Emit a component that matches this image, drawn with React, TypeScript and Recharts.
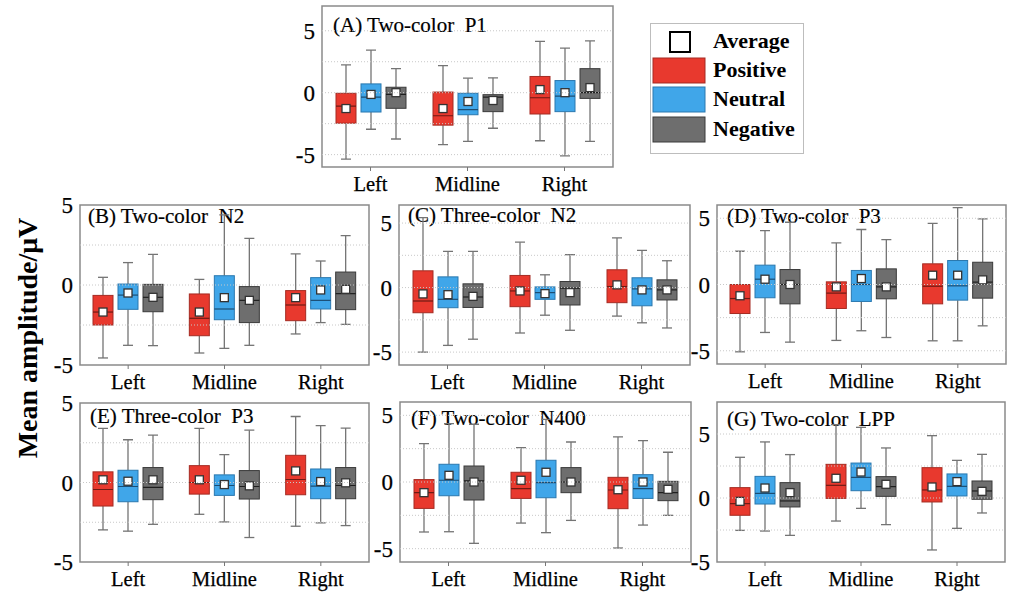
import React from 'react';
import { ComposedChart, Bar, XAxis, YAxis, ReferenceLine, ReferenceArea } from 'recharts';

const FONT = '"Liberation Serif", "Times New Roman", Times, serif';

const categories = ['Left', 'Midline', 'Right'];
const conditions = ['Positive', 'Neutral', 'Negative'];
const yTicks = [-5, 0, 5];
const gridValues = [-5, -2.5, 0, 2.5, 5];

// each entry: [whiskerLow, Q1, median, Q3, whiskerHigh, mean] for Left, Midline, Right
const aPositive = [[-5.36, -2.46, -1.09, -0.05, 2.24, -1.28], [-4.2, -2.62, -1.86, 0.05, 2.19, -1.28], [-3.88, -1.72, -0.41, 1.31, 4.15, 0.25]];
const aNeutral = [[-2.95, -1.56, -0.36, 0.71, 3.44, -0.14], [-3.93, -1.78, -1.37, -0.05, 1.17, -0.71], [-5.1, -1.53, -0.27, 0.98, 3.6, 0.0]];
const aNegative = [[-3.74, -1.26, -0.14, 0.44, 1.94, 0.0], [-2.87, -1.53, -0.36, -0.16, 1.2, -0.63], [-3.93, -0.46, 0.0, 1.94, 4.18, 0.41]];

const bPositive = [[-4.56, -2.5, -1.69, -0.65, 0.48, -1.69], [-4.25, -3.17, -2.08, -0.56, 0.35, -1.69], [-3.06, -2.23, -1.25, -0.35, 1.94, -0.79]];
const bNeutral = [[-3.77, -1.52, -0.63, 0.06, 1.4, -0.5], [-3.96, -2.17, -1.5, 0.58, 4.38, -0.79], [-2.35, -1.5, -0.96, 0.46, 1.5, -0.31]];
const bNegative = [[-3.79, -1.67, -0.77, 0.04, 1.92, -0.77], [-3.77, -2.35, -0.96, -0.1, 2.92, -0.96], [-2.46, -1.54, -0.54, 0.81, 3.08, -0.27]];

const cPositive = [[-5.0, -1.95, -1.04, 1.3, 5.42, -0.49], [-3.52, -1.48, -0.26, 0.94, 3.52, -0.26], [-2.21, -1.17, 0.08, 1.38, 3.85, 0.21]];
const cNeutral = [[-4.48, -1.56, -0.91, 0.83, 2.81, -0.55], [-2.14, -0.91, -0.39, 0.05, 0.99, -0.47], [-2.73, -1.41, -0.1, 0.76, 2.89, -0.18]];
const cNegative = [[-4.0, -1.54, -0.73, 0.29, 2.81, -0.68], [-3.31, -1.35, -0.05, 0.47, 2.55, -0.39], [-3.13, -0.96, -0.18, 0.6, 2.08, -0.18]];

const dPositive = [[-5.08, -2.19, -1.06, 0.0, 2.51, -0.85], [-4.22, -1.81, -0.65, 0.2, 3.14, -0.18], [-4.25, -1.46, -0.13, 1.56, 4.62, 0.7]];
const dNeutral = [[-3.62, -1.0, 0.4, 1.46, 4.07, 0.4], [-3.49, -1.28, 0.0, 1.06, 4.15, 0.45], [-4.25, -1.18, -0.1, 1.81, 5.8, 0.7]];
const dNegative = [[-4.35, -1.46, 0.0, 1.13, 4.7, 0.0], [-4.0, -1.08, -0.18, 1.18, 3.39, -0.18], [-3.12, -1.03, 0.18, 1.68, 4.95, 0.35]];

const ePositive = [[-2.98, -1.48, -0.44, 0.67, 3.4, 0.17], [-2.0, -0.73, 0.0, 1.06, 3.4, 0.17], [-2.75, -0.77, 0.19, 1.71, 4.15, 0.73]];
const eNeutral = [[-3.06, -1.21, -0.25, 0.77, 2.69, 0.08], [-2.48, -0.81, -0.19, 0.48, 1.75, -0.13], [-2.54, -1.02, -0.23, 0.85, 3.58, 0.06]];
const eNegative = [[-2.63, -1.08, -0.31, 0.94, 2.98, 0.17], [-3.46, -1.04, -0.25, 0.75, 3.29, -0.21], [-2.71, -1.02, -0.19, 0.94, 3.42, -0.02]];

const fPositive = [[-3.75, -1.98, -0.8, 0.18, 2.88, -0.8], [-3.08, -1.23, -0.5, 0.73, 2.58, 0.13], [-4.95, -2.0, -0.6, 0.35, 3.38, -0.58]];
const fNeutral = [[-3.73, -1.03, 0.13, 1.33, 4.38, 0.5], [-3.8, -1.18, -0.05, 1.63, 4.7, 0.73], [-3.23, -1.23, -0.5, 0.55, 3.1, 0.0]];
const fNegative = [[-4.6, -1.35, 0.08, 1.2, 4.33, 0.0], [-2.88, -0.8, 0.0, 1.08, 3.0, 0.0], [-2.5, -1.4, -0.8, 0.05, 2.23, -0.55]];

const gPositive = [[-2.53, -1.35, -0.44, 0.81, 3.18, -0.26], [-1.8, -0.03, 0.99, 2.63, 5.73, 1.54], [-4.06, -0.31, 0.63, 2.37, 4.87, 0.86]];
const gNeutral = [[-2.58, -0.47, 0.36, 1.69, 4.38, 0.78], [-0.81, 0.57, 1.61, 2.73, 5.52, 2.03], [-2.37, 0.16, 0.91, 1.88, 2.94, 1.28]];
const gNegative = [[-2.92, -0.7, -0.23, 1.2, 3.39, 0.42], [-2.08, 0.13, 0.89, 1.67, 3.91, 1.07], [-1.17, -0.1, 0.55, 1.33, 3.41, 0.52]];

const panelTitles = [
  '(A) Two-color  P1',
  '(B) Two-color  N2',
  '(C) Three-color  N2',
  '(D) Two-color  P3',
  '(E) Three-color  P3',
  '(F) Two-color  N400',
  '(G) Two-color  LPP',
];
const panelSeries = [
  [aPositive, aNeutral, aNegative],
  [bPositive, bNeutral, bNegative],
  [cPositive, cNeutral, cNegative],
  [dPositive, dNeutral, dNegative],
  [ePositive, eNeutral, eNegative],
  [fPositive, fNeutral, fNegative],
  [gPositive, gNeutral, gNegative],
];
const panelDomains = [[-6, 7], [-5, 5], [-6, 6.4], [-6, 6], [-5, 5], [-6, 6], [-5, 7.5]];
const yLabel = 'Mean amplitude/μV';

// layout (plot frame boxes and title anchors)
const frames = [
  { x0: 322, y0: 6, x1: 613, y1: 167, tx: 11, ty: 26 },
  { x0: 80, y0: 205, x1: 369, y1: 365, tx: 8, ty: 18 },
  { x0: 399, y0: 205, x1: 690, y1: 365, tx: 9, ty: 17 },
  { x0: 717, y0: 205, x1: 1006, y1: 364, tx: 10, ty: 18 },
  { x0: 80, y0: 403, x1: 369, y1: 562, tx: 10, ty: 20 },
  { x0: 400, y0: 402, x1: 691, y1: 562, tx: 11, ty: 23 },
  { x0: 717, y0: 402, x1: 1005, y1: 562, tx: 10, ty: 24 },
];

const COLORS = [
  { fill: '#E8392E', stroke: '#A52B22', median: '#6e1a14' },
  { fill: '#40A6E9', stroke: '#2A78AF', median: '#1b4d73' },
  { fill: '#6E6E6E', stroke: '#3a3a3a', median: '#1e1e1e' },
];
const WHISKER = '#747474';

const YW = 42;
const XH = 32;
const MT = 12;

const makeBox = (ci: number) => (props: any) => {
  const { x, y, width, height, payload } = props;
  if (!payload || !payload.stats) return <g />;
  const s = payload.stats[ci];
  const top = Math.min(y, y + height);
  const bottom = Math.max(y, y + height);
  const lo = s[0];
  const hi = s[4];
  const py = (v: number) => bottom - ((v - lo) / (hi - lo)) * (bottom - top);
  const cx = x + width / 2;
  const c = COLORS[ci];
  const capW = 5;
  return (
    <g>
      <line x1={cx} x2={cx} y1={py(hi)} y2={py(s[3])} stroke={WHISKER} strokeWidth={1.3} />
      <line x1={cx} x2={cx} y1={py(s[1])} y2={py(lo)} stroke={WHISKER} strokeWidth={1.3} />
      <line x1={cx - capW} x2={cx + capW} y1={py(hi)} y2={py(hi)} stroke={WHISKER} strokeWidth={1.3} />
      <line x1={cx - capW} x2={cx + capW} y1={py(lo)} y2={py(lo)} stroke={WHISKER} strokeWidth={1.3} />
      <rect x={x} y={py(s[3])} width={width} height={py(s[1]) - py(s[3])} fill={c.fill} stroke={c.stroke} strokeWidth={1} />
      <line x1={x} x2={x + width} y1={py(s[2])} y2={py(s[2])} stroke={c.median} strokeWidth={1.2} />
      <rect x={cx - 4} y={py(s[5]) - 4} width={8} height={8} fill="#fff" stroke="#333" strokeWidth={1.3} />
    </g>
  );
};

const boxShapes = [makeBox(0), makeBox(1), makeBox(2)];

const XTick = (p: any) => (
  <text
    x={p.x}
    y={p.y}
    dy="0.71em"
    textAnchor="middle"
    fill="#000"
    stroke="#000"
    strokeWidth={0.25}
    style={{ fontFamily: FONT, fontSize: 20.5 }}
  >
    {p.payload.value}
  </text>
);
const YTick = (p: any) => (
  <text
    x={p.x}
    y={p.y}
    dy="0.355em"
    textAnchor="end"
    fill="#000"
    stroke="#000"
    strokeWidth={0.25}
    style={{ fontFamily: FONT, fontSize: 23 }}
  >
    {p.payload.value}
  </text>
);

function Panel({ index }: { index: number }) {
  const f = frames[index];
  const dom = panelDomains[index];
  const series = panelSeries[index];
  const rows = categories.map((cat, i) => ({ cat, stats: series.map((s) => s[i]) }));
  const grid = gridValues.filter((v) => v > dom[0] && v < dom[1]);
  return (
    <div style={{ position: 'absolute', left: f.x0 - YW, top: f.y0 - MT, fontFamily: FONT, fontSize: 20 }}>
      <ComposedChart
        width={f.x1 - f.x0 + YW + 1}
        height={f.y1 - f.y0 + XH + MT}
        data={rows}
        margin={{ top: MT, right: 1, left: 0, bottom: 0 }}
        barSize={20}
        barGap={5}
        style={{ fontFamily: FONT }}
      >
        <XAxis
          dataKey="cat"
          interval={0}
          axisLine={false}
          tickLine={{ stroke: '#777' }}
          tickSize={4}
          tickMargin={5}
          height={XH}
          tick={XTick}
        />
        <YAxis
          type="number"
          domain={dom}
          ticks={yTicks}
          allowDataOverflow
          width={YW}
          axisLine={false}
          tickLine={false}
          tickSize={0}
          tickMargin={7}
          tick={YTick}
        />
        {grid.map((v) => (
          <ReferenceLine key={v} y={v} stroke="#c8c8c8" strokeDasharray="1 2" strokeWidth={1} />
        ))}
        <ReferenceArea y1={dom[0]} y2={dom[1]} fill="none" fillOpacity={0} stroke="#8a8a8a" strokeWidth={1.5} />
        {conditions.map((name, ci) => (
          <Bar
            key={name}
            name={name}
            dataKey={(d: any) => [d.stats[ci][0], d.stats[ci][4]]}
            shape={boxShapes[ci]}
            isAnimationActive={false}
          />
        ))}
      </ComposedChart>
    </div>
  );
}

export default function App() {
  const legendRows = [58, 87, 117];
  return (
    <div style={{ position: 'absolute', left: 0, top: 0, width: 1014, height: 600, background: '#fff', overflow: 'hidden', fontFamily: FONT }}>
      <svg width={1014} height={600} style={{ position: 'absolute', left: 0, top: 0 }}>
        {panelTitles.map((t, i) => (
          <text
            key={t}
            x={frames[i].x0 + frames[i].tx}
            y={frames[i].y0 + frames[i].ty}
            fill="#000"
            stroke="#000"
            strokeWidth={0.2}
            style={{ whiteSpace: 'pre', fontFamily: FONT, fontSize: 21 }}
          >
            {t}
          </text>
        ))}
        <text
          x={27}
          y={338}
          transform="rotate(-90 27 338)"
          textAnchor="middle"
          dominantBaseline="central"
          fill="#000"
          style={{ fontFamily: FONT, fontSize: 28, fontWeight: 'bold' }}
        >
          {yLabel}
        </text>
        <rect x={650.5} y={23.5} width={153} height={130} fill="#fff" stroke="#bdbdbd" strokeWidth={1} />
        <rect x={670} y={32} width={20} height={20} fill="#fff" stroke="#000" strokeWidth={2} />
        <text x={713} y={48} fill="#000" style={{ fontFamily: FONT, fontSize: 22, fontWeight: 'bold' }}>Average</text>
        {conditions.map((name, ci) => (
          <g key={name}>
            <rect x={653} y={legendRows[ci]} width={52} height={25} fill={COLORS[ci].fill} stroke={COLORS[ci].stroke} strokeWidth={1} />
            <text x={713} y={legendRows[ci] + 19} fill="#000" style={{ fontFamily: FONT, fontSize: 22, fontWeight: 'bold' }}>{name}</text>
          </g>
        ))}
      </svg>
      {panelTitles.map((t, i) => (
        <Panel key={t} index={i} />
      ))}
    </div>
  );
}
